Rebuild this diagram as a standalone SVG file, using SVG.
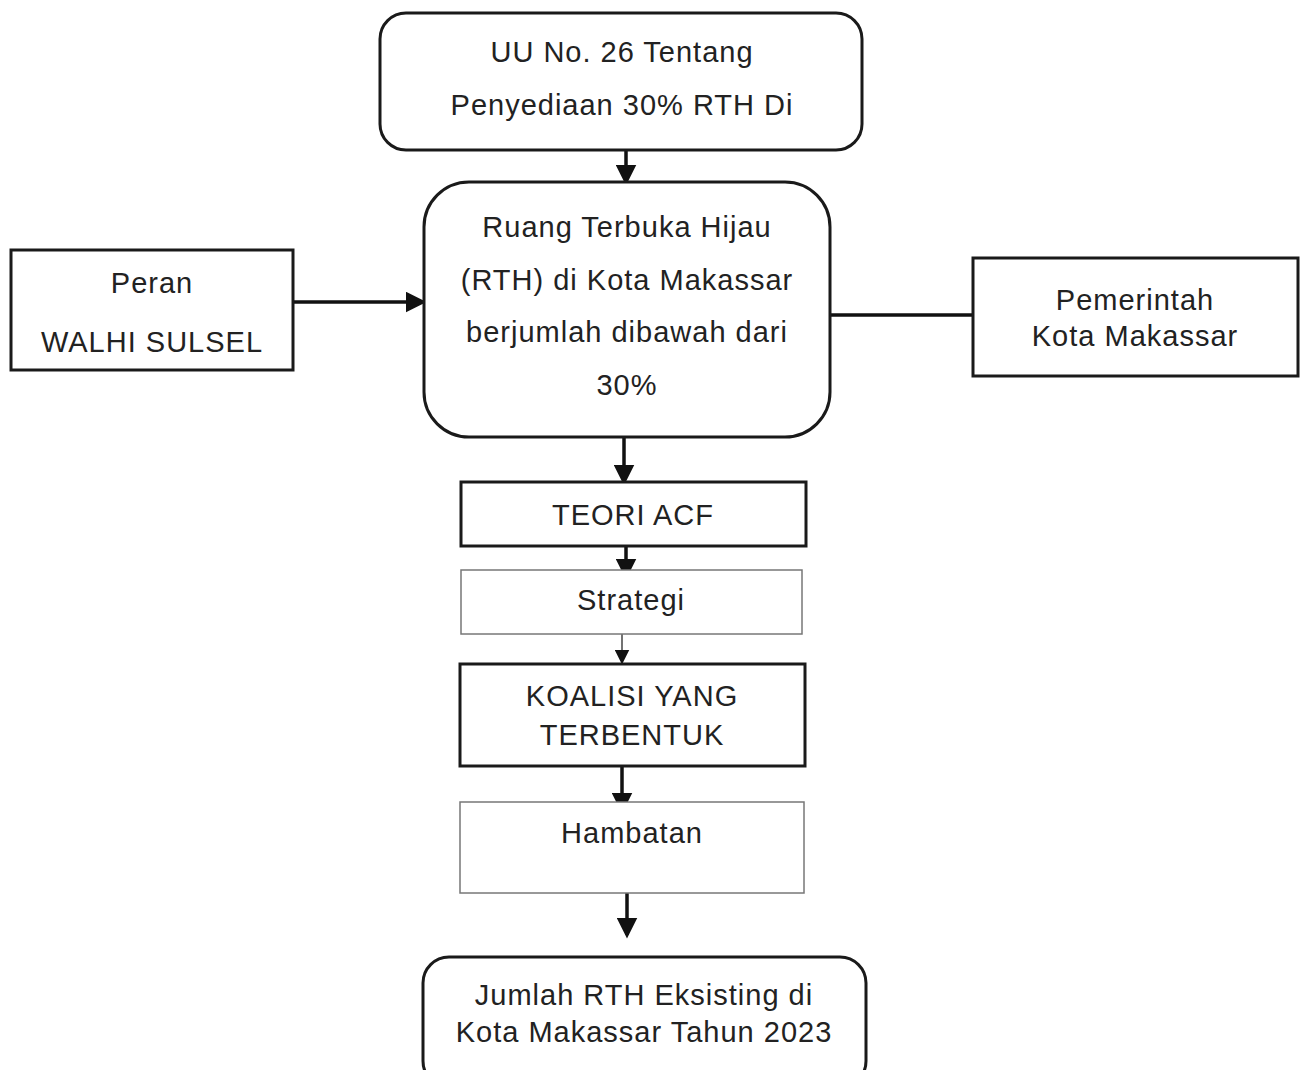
<svg xmlns="http://www.w3.org/2000/svg" width="1307" height="1070" viewBox="0 0 1307 1070">
<defs>
<marker id="ah" markerWidth="6" markerHeight="6" refX="5" refY="3" orient="auto" markerUnits="strokeWidth">
<path d="M0,0 L6,3 L0,6 Z" fill="#111"/>
</marker>
<marker id="ahs" markerWidth="10" markerHeight="10" refX="9" refY="5" orient="auto" markerUnits="strokeWidth">
<path d="M0,0 L10,5 L0,10 Z" fill="#111"/>
</marker>
<style>
.box{fill:#fff;stroke:#1a1a1a;stroke-width:3}
.thin{fill:#fff;stroke:#777;stroke-width:1.5}
.t{font-family:"Liberation Sans",Arial,sans-serif;font-size:29px;letter-spacing:1px;fill:#222;text-anchor:middle}
.c{stroke:#111;stroke-width:3.5;fill:none}
.cs{stroke:#444;stroke-width:1.5;fill:none}
</style>
</defs>
<rect width="1307" height="1070" fill="#fff"/>
<g id="connectors">
<line class="c" x1="626" y1="143" x2="626" y2="182" marker-end="url(#ah)"/>
<line class="c" x1="288" y1="302" x2="423" y2="302" marker-end="url(#ah)"/>
<line class="c" x1="830" y1="315" x2="973" y2="315"/>
<line class="c" x1="624" y1="427" x2="624" y2="482" marker-end="url(#ah)"/>
<line class="c" x1="626" y1="541" x2="626" y2="576" marker-end="url(#ah)"/>
<line class="cs" x1="622" y1="634" x2="622" y2="663" marker-end="url(#ahs)"/>
<line class="c" x1="622" y1="763" x2="622" y2="810" marker-end="url(#ah)"/>
<line class="c" x1="627" y1="893" x2="627" y2="935" marker-end="url(#ah)"/>
</g>
<g id="uu">
<rect class="box" x="380" y="13" width="482" height="137" rx="26"/>
<text class="t" x="622" y="62">UU No. 26 Tentang</text>
<text class="t" x="622" y="115">Penyediaan 30% RTH Di</text>
</g>
<g id="rth">
<rect class="box" x="424" y="182" width="406" height="255" rx="45"/>
<text class="t" x="627" y="237">Ruang Terbuka Hijau</text>
<text class="t" x="627" y="290">(RTH) di Kota Makassar</text>
<text class="t" x="627" y="342">berjumlah dibawah dari</text>
<text class="t" x="627" y="395">30%</text>
</g>
<g id="walhi">
<rect class="box" x="11" y="250" width="282" height="120"/>
<text class="t" x="152" y="293">Peran</text>
<text class="t" x="152" y="352">WALHI SULSEL</text>
</g>
<g id="pemerintah">
<rect class="box" x="973" y="258" width="325" height="118"/>
<text class="t" x="1135" y="310">Pemerintah</text>
<text class="t" x="1135" y="346">Kota Makassar</text>
</g>
<g id="teori">
<rect class="box" x="461" y="482" width="345" height="64"/>
<text class="t" x="633" y="525">TEORI ACF</text>
</g>
<g id="strategi">
<rect class="thin" x="461" y="570" width="341" height="64"/>
<text class="t" x="631" y="610">Strategi</text>
</g>
<g id="koalisi">
<rect class="box" x="460" y="664" width="345" height="102"/>
<text class="t" x="632" y="706">KOALISI YANG</text>
<text class="t" x="632" y="745">TERBENTUK</text>
</g>
<g id="hambatan">
<rect class="thin" x="460" y="802" width="344" height="91"/>
<text class="t" x="632" y="843">Hambatan</text>
</g>
<g id="jumlah">
<rect class="box" x="423" y="957" width="443" height="130" rx="26"/>
<text class="t" x="644" y="1005">Jumlah RTH Eksisting di</text>
<text class="t" x="644" y="1042">Kota Makassar Tahun 2023</text>
</g>
</svg>
